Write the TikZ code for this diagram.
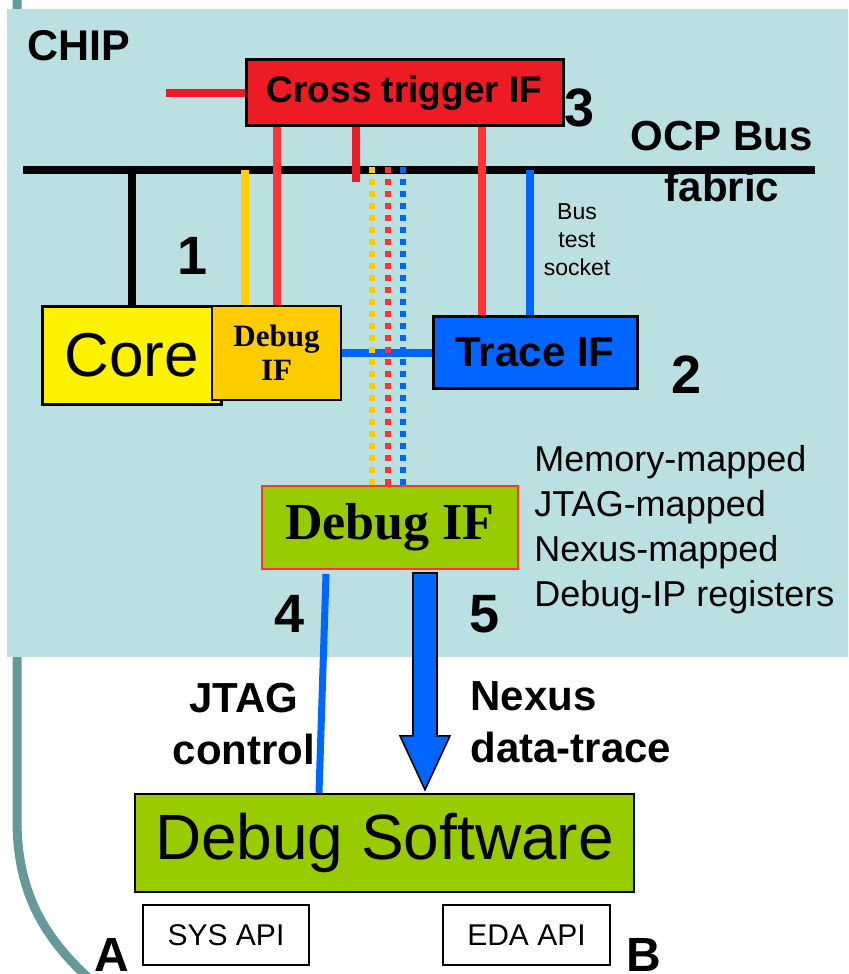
\documentclass[tikz,border=0pt]{standalone}
\usepackage{fontspec}
\setmainfont{Liberation Sans}
\newfontfamily\timesfont{Liberation Serif}
\usetikzlibrary{calc}
\definecolor{chipbg}{RGB}{186,224,226}
\definecolor{curveteal}{RGB}{102,153,153}
\definecolor{xred}{RGB}{237,28,36}
\definecolor{wirered}{RGB}{255,51,51}
\definecolor{dbgyellow}{RGB}{255,204,0}
\definecolor{ocpblue}{RGB}{0,102,255}
\definecolor{swgreen}{RGB}{153,204,0}
\begin{document}
\begin{tikzpicture}[x=0.5pt,y=-0.5pt,
    box/.style={draw,line width=1.5pt,inner sep=0pt,align=center},
    wire/.style={line width=4pt},
    dots/.style={line width=3pt,dash pattern=on 3pt off 3pt},
    num/.style={font=\bfseries\fontsize{27}{27}\selectfont}]

  \clip (0,0) rectangle (848,974);
  % teal curve behind the chip
  \draw[curveteal,line width=4.5pt] (17,-5) -- (17,820) .. controls (17,900) and (50,950) .. (115,1000);
  \fill[chipbg] (7,9) rectangle (848,657);

  \coordinate (busL) at (23,170);
  \coordinate (busR) at (815,170);

  \node[box,fill=xred,minimum width=158.5pt,minimum height=33pt,
        font=\bfseries\fontsize{18.5}{18.5}\selectfont] (cross) at (404.5,93) {Cross trigger IF};
  \node[box,fill=yellow,minimum width=89.5pt,minimum height=49pt,
        font=\fontsize{31}{31}\selectfont] (core) at (131.5,355) {Core};
  \node[box,fill=dbgyellow,line width=1pt,minimum width=64.5pt,minimum height=47pt,
        font=\timesfont\bfseries\fontsize{15.5}{17}\selectfont] (dbg) at (276.5,353) {Debug\\IF};
  \node[box,fill=ocpblue,minimum width=102pt,minimum height=36pt,
        font=\bfseries\fontsize{21}{21}\selectfont] (trace) at (535,352) {Trace IF};
  \node[box,fill=swgreen,draw=wirered,line width=1pt,minimum width=128pt,minimum height=41.5pt,
        font=\timesfont\bfseries\fontsize{26}{26}\selectfont] (dbgif) at (390,527.5) {Debug IF};
  \node[box,fill=swgreen,line width=1.2pt,minimum width=249.5pt,minimum height=49pt,
        font=\fontsize{32}{32}\selectfont] (sw) at (384.5,843) {Debug Software};
  \node[box,fill=white,line width=1pt,minimum width=83pt,minimum height=30pt,
        font=\fontsize{15}{15}\selectfont] (sys) at (226,935) {SYS API};
  \node[box,fill=white,line width=1pt,minimum width=83.5pt,minimum height=30pt,
        font=\fontsize{15}{15}\selectfont] (eda) at (526.5,935) {EDA API};

  \coordinate (dbgY) at ($(dbg.north)+(-31.5,0)$);
  \coordinate (xstub) at (356,182);
  \coordinate (xleft) at (166,93);
  \coordinate (trR) at ($(trace.north)+(-53,0)$);
  \coordinate (trB) at ($(trace.north)+(-5,0)$);

  \path (busL) edge[wire] (busR)
        (core.north) edge[wire] (core.north |- busL)
        (dbgY) edge[wire,dbgyellow] (dbgY |- busL)
        (dbg.north) edge[wire,wirered] (dbg.north |- cross.south)
        (cross.south -| xstub) edge[wire,xred] (xstub)
        (xleft) edge[wire,xred] (xleft -| cross.west)
        (trR) edge[wire,wirered] (trR |- cross.south)
        (trB) edge[wire,ocpblue] (trB |- busL)
        (dbg.east) edge[wire,ocpblue] (dbg.east -| trace.west);

  \path ($(dbgif.north)+(-18,0)$) edge[dots,dbgyellow] ($(dbgif.north)+(-18,-323)$)
        ($(dbgif.north)+(-2,0)$) edge[dots,wirered] ($(dbgif.north)+(-2,-323)$)
        ($(dbgif.north)+(13,0)$) edge[dots,ocpblue] ($(dbgif.north)+(13,-323)$);

  \coordinate (jtTop) at ($(dbgif.south)+(-64,4)$);
  \coordinate (jtBot) at ($(sw.north)+(-65.5,0)$);
  \draw[ocpblue,line width=3.5pt] (jtTop) -- (jtBot);

  \coordinate (arS) at ($(dbgif.south)+(35,3)$);
  \coordinate (arE) at (arS |- sw.north);
  \draw[fill=ocpblue,line width=0.8pt] ($(arS)+(-12,0)$) -- ($(arE)+(-12,-57)$) -- ($(arE)+(-25,-57)$)
        -- ($(arE)+(0,-3)$) -- ($(arE)+(25,-57)$) -- ($(arE)+(12,-57)$) -- ($(arS)+(12,0)$) -- cycle;

  \node[anchor=west,inner sep=0pt,font=\bfseries\fontsize{21.5}{21.5}\selectfont] (chip) at (27,46) {CHIP};
  \node[align=center,font=\bfseries\fontsize{21}{25.5}\selectfont] (ocp) at (722,162) {OCP Bus\\fabric};
  \node[align=center,font=\fontsize{11.5}{14}\selectfont] (socket) at (577,240) {Bus\\test\\socket};
  \node[num] (n1) at (193,256) {1};
  \node[num] (n2) at (687,375) {2};
  \node[num] (n3) at (580,108) {3};
  \node[num] (n4) at (290,614) {4};
  \node[num] (n5) at (485,614) {5};
  \node[anchor=west,inner sep=0pt,align=left,font=\fontsize{18}{22.5}\selectfont] (regs) at (534,529.5)
        {Memory-mapped\\JTAG-mapped\\Nexus-mapped\\Debug-IP registers};
  \node[align=center,font=\bfseries\fontsize{21}{26}\selectfont] (jtag) at (244,724) {JTAG\\control};
  \node[anchor=west,inner sep=0pt,align=left,font=\bfseries\fontsize{21}{26}\selectfont] (nexus) at (470,722) {Nexus\\data-trace};
  \node[anchor=base,inner sep=0pt,font=\bfseries\fontsize{24}{24}\selectfont] (labA) at (112,971) {A};
  \node[anchor=base,inner sep=0pt,font=\bfseries\fontsize{24}{24}\selectfont] (labB) at (644,971) {B};

\end{tikzpicture}
\end{document}
